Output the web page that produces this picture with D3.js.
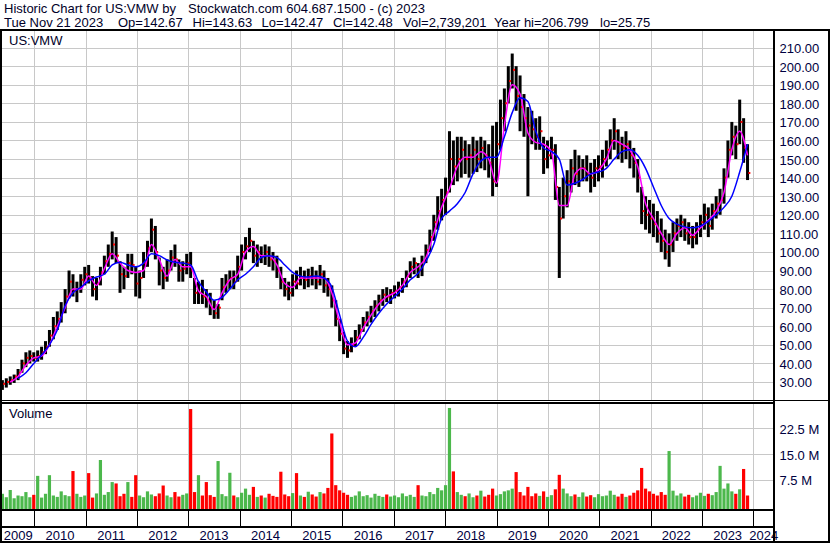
<!DOCTYPE html>
<html>
<head>
<meta charset="utf-8">
<script src="https://cdn.jsdelivr.net/npm/d3@7"></script>
<style>
body { margin: 0; background: #fff; }
svg { display: block; font-family: "Liberation Sans", Arial, sans-serif; }
</style>
</head>
<body>
<svg id="chart" width="830" height="543"></svg>
<script>
// tick labels
const priceTicks = [30, 40, 50, 60, 70, 80, 90, 100, 110, 120, 130, 140, 150, 160, 170, 180, 190, 200, 210];
const volTicks = [7.5, 15, 22.5];
const years = [2009, 2010, 2011, 2012, 2013, 2014, 2015, 2016, 2017, 2018, 2019, 2020, 2021, 2022, 2023, 2024];

// one bar per ~4 weeks, May 19 2009 .. Nov 21 2023
const firstDate = new Date(2009, 4, 19);
const lastDate = new Date(2023, 10, 21);

const hi = [31,32,33,34,37,42,46,47,46,47,49,52,58,
  65,68,73,80,90,88,84,88,92,93,87,86,92,
  98,104,111,108,95,92,99,99,92,90,100,106,118,
  114,97,92,96,101,104,96,95,99,100,86,84,85,
  80,78,74,72,86,88,90,90,98,104,108,113,106,
  104,103,104,103,100,98,92,86,84,88,90,92,90,
  91,92,90,93,90,86,82,74,64,57,52,54,58,
  61,65,68,71,74,77,80,81,80,82,84,86,90,
  95,97,94,98,104,112,120,130,134,140,165,160,162,
  162,160,158,162,160,162,160,158,168,170,182,188,200,
  206.8,200,195,185,178,176,172,173,162,160,162,158,135,
  140,144,150,155,152,150,152,148,150,152,155,160,166,
  172,166,162,165,160,156,150,135,130,128,126,122,118,
  112,110,116,118,120,118,116,114,116,120,126,124,126,
  130,134,145,160,170,168,182,172,158];
const lo = [25.75,27,28.5,29.5,31,35,38,40,41,41,42,45,49,
  53,58,62,67,75,76,73,78,82,83,76,74,82,
  88,92,96,94,78,80,86,88,76,75,86,92,100,
  96,82,80,84,90,92,84,84,88,86,72,72,72,
  70,66,64,64,74,78,80,80,84,90,96,100,94,
  92,94,93,92,90,86,80,76,74,76,80,82,80,
  81,82,80,82,78,76,70,60,52,45,43,46,49,
  53,57,60,62,65,68,71,73,72,75,76,78,81,
  86,88,86,87,94,100,106,112,117,120,132,136,138,
  140,142,140,142,143,145,144,140,130,135,155,165,180,
  188,176,165,162,130,158,155,155,142,145,150,128,86,
  118,124,132,136,135,138,138,132,135,138,140,146,150,
  155,150,148,150,145,140,132,115,112,110,108,105,100,
  96,92,100,106,108,106,104,102,104,108,112,108,112,
  118,120,126,140,152,150,158,148,138.7];
const cl = [29,30,31,33,35,40,43,44,43,44,46,49,55,
  60,64,68,76,84,79,80,85,88,86,80,83,89,
  95,99,104,98,88,87,94,93,83,86,94,102,112,
  100,90,86,90,97,96,90,91,94,90,78,78,76,
  74,70,67,70,81,84,86,84,92,100,103,106,98,
  100,98,100,96,95,90,84,80,78,84,83,86,85,
  87,86,84,88,82,80,74,64,56,48,47,50,54,
  58,62,65,68,71,74,77,76,78,79,81,84,87,
  92,94,90,95,101,108,116,122,128,132,150,146,150,
  155,150,152,155,150,156,152,148,138,158,172,180,192,
  198,184,178,172,168,166,162,165,150,152,155,135,118,
  130,138,145,142,145,145,142,140,145,146,150,155,160,
  165,158,156,158,152,148,140,122,120,118,115,110,106,
  100,104,110,114,116,110,108,108,112,116,120,114,122,
  126,128,140,155,162,158,170,156,142.5];
// volume, millions
const vol = [3.5,2.5,4.6,2.2,3.0,2.8,4.0,2.5,3.2,8.7,2.4,3.5,8.9,
  3.0,2.6,4.2,3.1,2.8,10.1,3.5,2.6,3.0,9.5,2.4,3.6,13.3,
  3.2,4.0,6.9,6.5,2.8,3.5,6.9,2.6,8.9,3.0,2.5,4.2,3.3,
  2.8,3.6,5.9,3.0,2.5,4.0,2.7,3.2,3.6,28.1,4.0,8.9,3.0,
  6.9,3.1,2.6,13.0,3.4,2.8,9.6,3.0,2.5,3.8,5.0,3.2,5.5,
  2.6,3.0,2.4,3.5,2.9,2.6,9.9,3.3,2.8,3.7,9.5,3.0,2.6,
  4.1,3.3,2.7,4.0,3.6,5.2,21.0,6.0,4.5,3.8,3.2,2.6,3.0,
  4.2,2.8,3.1,2.4,3.5,2.9,2.6,3.3,2.7,3.0,2.5,3.6,2.8,
  3.2,2.6,6.0,3.0,2.8,4.0,3.4,5.2,4.5,6.0,28.4,10.0,4.0,
  3.2,2.8,3.6,2.5,3.0,4.4,2.7,3.2,5.0,3.0,3.4,4.2,4.5,
  5.0,9.8,4.0,3.0,5.5,2.8,3.6,2.9,4.2,2.6,3.1,4.8,9.0,
  5.0,3.6,2.8,3.3,2.6,3.9,2.7,3.1,2.5,3.4,2.8,3.0,4.4,
  3.2,2.7,3.5,2.6,3.0,3.8,4.5,11.0,5.0,4.2,3.5,3.0,4.0,
  3.2,15.9,4.4,3.0,3.6,2.7,3.2,2.5,3.0,3.8,2.9,3.5,3.1,
  4.0,11.6,5.0,6.5,4.2,3.5,4.8,10.7,3.0];
// moving averages, every 2nd bar (fast from bar 2, slow from bar 4)
const maFast = [30,33,39,43,44,50,60,70,80,80,87,82,91,99,94,90,89,90,104,96,
  87,96,92,92,79,76,69,78,85,88,100,103,98,98,93,83,81,86,86,86,
  86,78,62,50,51,59,66,72,76,78,82,89,92,97,110,124,134,146,151,151,
  154,150,137,168,190,185,164,159,158,154,125,125,142,145,142,144,150,160,158,155,
  146,126,118,110,104,110,113,109,113,117,122,132,155,165,152];
const maSlow = [32,35,40,44.5,50,58,71,78,81,84.5,86.5,88,93,94.5,93,92,94,99,98,95.7,
  94.5,94,93,84,78.5,74,75.5,80,85,88,92,97,98,97,93,89,87,86.5,87,86,
  81,66,52,49,54,61,67,72,76,80,85,88.5,95,104,118,122,126,132,142,149,
  151,151,162,175,183,181,165,156,154,150,136,137,139,142,143,145,150,154,155,152,
  145,135,125,118,115,113.5,113,114,116.5,120,124,130,143,158];

const n = hi.length;
const dates = d3.range(n).map(i => new Date(+firstDate + (lastDate - firstDate) * i / (n - 1)));
const bars = dates.map((d, i) => ({ d: d, hi: hi[i], lo: lo[i], cl: cl[i], vol: vol[i], up: i == 0 || cl[i] >= cl[i - 1] }));
const fastPts = maFast.map((v, k) => ({ d: dates[2 + 2 * k], v: v }));
const slowPts = maSlow.map((v, k) => ({ d: dates[4 + 2 * k], v: v }));

const plotL = 2, plotR = 773, axisX = 779.5;
const priceTop = 31, priceBot = 400;
const volTop = 403, volBot = 509;

const x = d3.scaleTime()
  .domain([new Date(2010, 0, 1), new Date(2024, 0, 1)])
  .range([34.3, 753.3]);
const yP = d3.scaleLinear().domain([30, 210]).range([382, 47.6]);
const yV = d3.scaleLinear().domain([7.5, 22.5]).range([480, 428.3]);

const svg = d3.select("#chart");
svg.append("rect").attr("width", 830).attr("height", 543).attr("fill", "#fff");

// header
const head = svg.append("g").attr("font-size", 13).attr("fill", "#000028");
head.append("text").attr("x", 4).attr("y", 13).text("Historic Chart for US:VMW by");
head.append("text").attr("x", 188).attr("y", 13).text("Stockwatch.com 604.687.1500 - (c) 2023");
const line2 = [["Tue Nov 21 2023", 4], ["Op=142.67", 118], ["Hi=143.63", 192.5], ["Lo=142.47", 261.5],
  ["Cl=142.48", 333], ["Vol=2,739,201", 403], ["Year hi=206.799", 494], ["lo=25.75", 600]];
head.selectAll(".l2").data(line2).enter().append("text")
  .attr("x", d => d[1]).attr("y", 27).text(d => d[0]);

const boundaries = years.slice(1).map(yr => new Date(yr, 0, 1));

// grids
const grid = svg.append("g").attr("stroke", "#c8c8c8").attr("stroke-width", 1).attr("shape-rendering", "crispEdges");
grid.selectAll(".gv").data(boundaries).enter().append("line")
  .attr("x1", d => Math.round(x(d)) + 0.5).attr("x2", d => Math.round(x(d)) + 0.5)
  .attr("y1", priceTop).attr("y2", priceBot);
grid.selectAll(".gh").data(priceTicks).enter().append("line")
  .attr("x1", plotL).attr("x2", plotR)
  .attr("y1", d => Math.round(yP(d)) + 0.5).attr("y2", d => Math.round(yP(d)) + 0.5);
grid.selectAll(".vv").data(boundaries).enter().append("line")
  .attr("x1", d => Math.round(x(d)) + 0.5).attr("x2", d => Math.round(x(d)) + 0.5)
  .attr("y1", volTop).attr("y2", volBot);
grid.selectAll(".vh").data(volTicks).enter().append("line")
  .attr("x1", plotL).attr("x2", plotR)
  .attr("y1", d => Math.round(yV(d)) + 0.5).attr("y2", d => Math.round(yV(d)) + 0.5);

// price bars
svg.append("clipPath").attr("id", "pclip").append("rect")
  .attr("x", plotL).attr("y", priceTop).attr("width", plotR - plotL).attr("height", priceBot - priceTop);
const price = svg.append("g").attr("clip-path", "url(#pclip)");
price.selectAll(".hl").data(bars).enter().append("rect")
  .attr("x", d => x(d.d) - 1.5).attr("width", 3)
  .attr("y", d => yP(d.hi)).attr("height", d => yP(d.lo) - yP(d.hi))
  .attr("fill", "#000");
price.selectAll(".cl").data(bars).enter().append("rect")
  .attr("x", d => x(d.d) + 0.8).attr("width", 2)
  .attr("y", d => yP(d.cl) - 1).attr("height", 2)
  .attr("fill", "#ff0000");

const maLine = d3.line().x(d => x(d.d)).y(d => yP(d.v)).curve(d3.curveMonotoneX);
price.append("path").datum(fastPts).attr("d", maLine)
  .attr("fill", "none").attr("stroke", "#ff00ff").attr("stroke-width", 1.5);
price.append("path").datum(slowPts).attr("d", maLine)
  .attr("fill", "none").attr("stroke", "#0000ff").attr("stroke-width", 1.5);

// volume bars
svg.selectAll(".vb").data(bars).enter().append("rect")
  .attr("x", d => x(d.d) - 1.6).attr("width", 3.2)
  .attr("y", d => yV(d.vol)).attr("height", d => volBot - yV(d.vol))
  .attr("fill", d => d.up ? "#4cb84c" : "#ff0000");

// labels
svg.append("text").attr("x", 9).attr("y", 45).attr("font-size", 13).attr("fill", "#000028").text("US:VMW");
svg.append("text").attr("x", 9).attr("y", 418).attr("font-size", 13).attr("fill", "#000028").text("Volume");

const pAxis = svg.append("g").attr("transform", "translate(" + axisX + ",0)")
  .call(d3.axisRight(yP).tickValues(priceTicks).tickSize(0).tickPadding(0).tickFormat(d3.format(".2f")));
const vAxis = svg.append("g").attr("transform", "translate(" + axisX + ",0)")
  .call(d3.axisRight(yV).tickValues(volTicks).tickSize(0).tickPadding(0).tickFormat(d => d.toFixed(1) + " M"));
[pAxis, vAxis].forEach(g => {
  g.select(".domain").remove();
  g.attr("font-size", 13).attr("font-family", null);
  g.selectAll("text").attr("fill", "#000040").attr("dy", "0.38em");
});

// year cells
const cells = years.map(yr => {
  const a = Math.max(x(new Date(yr, 0, 1)), plotL);
  const b = Math.min(x(new Date(yr + 1, 0, 1)), plotR + 1);
  return { yr: yr, mid: (a + b) / 2 };
});
svg.selectAll(".yl").data(cells).enter().append("text")
  .attr("x", d => d.mid).attr("y", 540).attr("text-anchor", "middle")
  .attr("font-size", 13).attr("fill", "#000040").text(d => d.yr);

// frame
const frame = svg.append("g").attr("fill", "#000").attr("shape-rendering", "crispEdges");
frame.append("rect").attr("x", 0).attr("y", 29).attr("width", 830).attr("height", 2);
frame.append("rect").attr("x", 0).attr("y", 29).attr("width", 2).attr("height", 514);
frame.append("rect").attr("x", 828).attr("y", 29).attr("width", 2).attr("height", 514);
frame.append("rect").attr("x", 773).attr("y", 29).attr("width", 2).attr("height", 514);
frame.append("rect").attr("x", 0).attr("y", 400).attr("width", 830).attr("height", 1);
frame.append("rect").attr("x", 0).attr("y", 402).attr("width", 775).attr("height", 1.5);
frame.append("rect").attr("x", 0).attr("y", 509).attr("width", 775).attr("height", 2);
frame.append("rect").attr("x", 0).attr("y", 526).attr("width", 775).attr("height", 2);
frame.append("rect").attr("x", 0).attr("y", 541).attr("width", 830).attr("height", 2);
frame.selectAll(".ys").data(boundaries).enter().append("rect")
  .attr("x", d => Math.round(x(d))).attr("y", 511).attr("width", 1).attr("height", 15);
</script>
</body>
</html>
